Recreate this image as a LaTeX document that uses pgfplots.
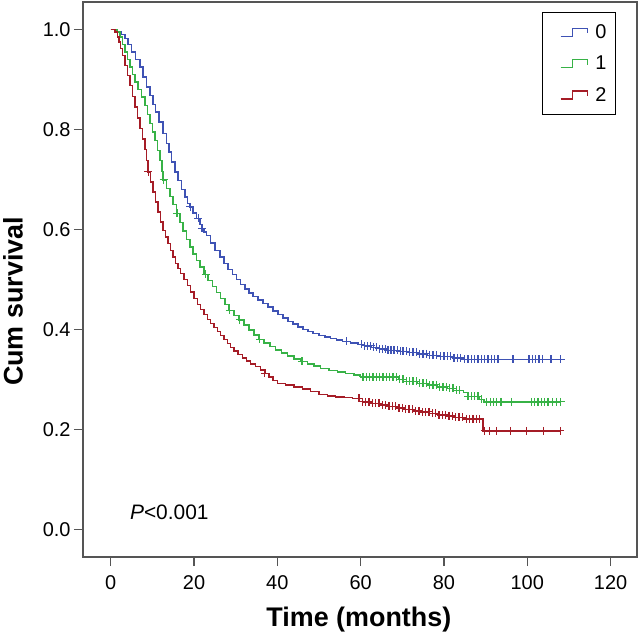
\documentclass[border=0pt]{standalone}
\usepackage{fontspec}
\setmainfont{Liberation Sans}
\usepackage{pgfplots}
\pgfplotsset{compat=1.18}
\usepackage{pgfplotstable}
\definecolor{kmblue}{RGB}{62,82,180}
\definecolor{kmgreen}{RGB}{55,178,70}
\definecolor{kmred}{RGB}{165,28,38}
\definecolor{framegray}{RGB}{85,85,85}

% survival curves (time in months, cumulative survival from that time on)
\pgfplotstableread{
t S
0 1.000
1.5 0.995
2.5 0.990
3.4 0.982
4.2 0.970
5.0 0.955
6.0 0.940
7.0 0.925
7.8 0.905
8.6 0.885
9.4 0.868
10.2 0.850
10.8 0.835
11.6 0.815
12.6 0.792
13.4 0.772
14.0 0.755
14.6 0.735
15.4 0.715
16.2 0.698
17.0 0.680
17.8 0.665
18.4 0.652
19.0 0.645
19.8 0.633
20.6 0.622
21.4 0.610
21.8 0.602
22.4 0.595
23.0 0.588
24.0 0.573
25.0 0.558
26.2 0.545
27.2 0.532
28.2 0.520
29.2 0.510
30.2 0.500
31.2 0.490
32.2 0.481
33.2 0.473
34.2 0.466
35.4 0.459
36.6 0.452
37.8 0.445
39.0 0.437
40.2 0.430
41.4 0.423
42.6 0.416
43.8 0.411
45.0 0.405
46.2 0.400
47.4 0.396
48.6 0.392
50.0 0.388
51.4 0.385
52.8 0.382
54.2 0.379
55.6 0.376
57.5 0.373
59.5 0.370
61.0 0.367
62.5 0.364
64.5 0.361
66.5 0.358
69.0 0.356
71.5 0.354
73.5 0.351
76.0 0.348
79.0 0.346
82.0 0.343
84.7 0.340
108.2 0.340
}\blueS
\pgfplotstableread{
t S
19.1 0.645
21.0 0.622
21.9 0.602
56.6 0.376
60.2 0.370
61.0 0.367
61.7 0.367
62.4 0.367
63.1 0.364
63.8 0.364
64.5 0.361
65.2 0.361
65.9 0.361
66.6 0.358
67.3 0.358
68.0 0.358
68.8 0.358
69.5 0.356
70.2 0.356
71.0 0.356
71.8 0.354
72.6 0.354
73.4 0.354
74.2 0.351
75.0 0.351
75.8 0.351
76.6 0.348
77.4 0.348
78.2 0.348
79.2 0.346
80.0 0.346
80.8 0.346
81.6 0.346
82.4 0.343
83.2 0.343
84.0 0.343
85.0 0.340
85.8 0.340
86.6 0.340
87.4 0.340
88.2 0.340
89.0 0.340
89.8 0.340
90.6 0.340
91.4 0.340
92.2 0.340
93.0 0.340
96.6 0.340
100.4 0.340
101.2 0.340
102.0 0.340
102.8 0.340
103.7 0.340
105.7 0.340
108.0 0.340
}\blueC
\pgfplotstableread{
t S
0 1.000
1.5 0.995
2.2 0.985
2.8 0.970
3.4 0.955
4.0 0.940
4.6 0.925
5.2 0.910
5.8 0.895
6.6 0.880
7.4 0.865
8.2 0.848
8.8 0.830
9.4 0.812
10.0 0.795
10.6 0.778
11.2 0.758
11.8 0.738
12.3 0.716
12.6 0.699
13.4 0.682
14.2 0.666
15.0 0.650
15.8 0.632
16.6 0.614
17.4 0.597
18.2 0.580
19.0 0.565
19.8 0.551
20.6 0.538
21.4 0.525
22.4 0.510
23.4 0.498
24.4 0.486
25.4 0.474
26.4 0.462
27.4 0.450
28.4 0.438
29.6 0.428
30.8 0.419
32.0 0.409
33.2 0.399
34.4 0.389
35.6 0.380
36.8 0.373
38.2 0.366
39.6 0.359
41.0 0.353
42.4 0.347
44.0 0.341
45.6 0.336
47.2 0.331
48.8 0.327
50.4 0.322
52.4 0.318
54.4 0.315
56.4 0.312
58.4 0.309
60.0 0.305
69.2 0.300
71.0 0.296
73.5 0.292
76.0 0.289
78.5 0.285
80.7 0.282
83.0 0.278
84.7 0.274
85.6 0.266
88.4 0.260
89.6 0.255
108.2 0.255
}\greenS
\pgfplotstableread{
t S
12.7 0.699
15.9 0.632
22.8 0.510
28.6 0.438
31.0 0.419
35.8 0.380
45.9 0.336
60.6 0.305
61.4 0.305
62.2 0.305
63.0 0.305
63.8 0.305
64.6 0.305
65.4 0.305
66.2 0.305
67.0 0.305
67.8 0.305
68.6 0.305
69.4 0.300
70.2 0.300
71.0 0.296
71.8 0.296
72.6 0.296
73.4 0.296
74.2 0.292
75.0 0.292
75.8 0.292
76.6 0.289
77.4 0.289
78.2 0.289
79.0 0.285
79.8 0.285
80.6 0.285
81.4 0.282
82.2 0.282
83.0 0.278
83.8 0.278
85.8 0.266
86.6 0.266
87.4 0.266
88.2 0.266
89.0 0.260
90.3 0.255
91.1 0.255
91.9 0.255
92.7 0.255
93.7 0.255
96.3 0.255
101.0 0.255
101.8 0.255
102.6 0.255
103.4 0.255
104.2 0.255
105.0 0.255
106.0 0.255
107.0 0.255
108.0 0.255
}\greenC
\pgfplotstableread{
t S
0 1.000
1.0 0.995
1.6 0.985
2.0 0.975
2.4 0.962
2.8 0.948
3.4 0.928
4.0 0.908
4.6 0.888
5.2 0.866
5.8 0.845
6.4 0.823
7.0 0.802
7.6 0.781
8.2 0.760
8.6 0.738
9.0 0.715
9.6 0.695
10.2 0.675
10.8 0.655
11.4 0.635
12.0 0.615
12.6 0.598
13.2 0.585
13.8 0.572
14.4 0.558
15.0 0.545
15.6 0.532
16.2 0.522
16.8 0.512
17.6 0.500
18.4 0.488
19.2 0.475
20.0 0.462
20.8 0.450
21.6 0.440
22.4 0.430
23.2 0.420
24.0 0.412
24.8 0.404
25.6 0.396
26.4 0.388
27.2 0.380
28.0 0.372
28.8 0.364
29.6 0.357
30.6 0.350
31.6 0.343
32.6 0.337
33.6 0.331
34.8 0.326
36.0 0.319
37.0 0.312
38.0 0.305
39.0 0.298
40.0 0.292
42.0 0.289
44.0 0.285
46.0 0.281
48.0 0.276
50.0 0.270
52.0 0.267
54.0 0.265
56.0 0.264
58.0 0.262
60.4 0.255
62.5 0.252
64.5 0.249
66.5 0.246
68.5 0.243
70.5 0.240
72.5 0.237
74.5 0.235
76.5 0.232
78.5 0.229
80.5 0.227
82.5 0.224
84.5 0.221
89.4 0.197
108.2 0.197
}\redS
\pgfplotstableread{
t S
9.0 0.715
37.0 0.312
59.6 0.262
60.4 0.255
61.2 0.255
62.0 0.255
62.8 0.252
63.6 0.252
64.4 0.252
65.2 0.249
66.0 0.249
66.8 0.246
67.6 0.246
68.4 0.246
69.2 0.243
70.0 0.243
70.8 0.240
71.6 0.240
72.4 0.240
73.2 0.237
74.0 0.237
74.8 0.235
75.6 0.235
76.4 0.235
77.2 0.232
78.0 0.232
78.8 0.229
79.6 0.229
80.4 0.229
81.2 0.227
82.0 0.227
82.8 0.224
83.6 0.224
84.4 0.224
85.4 0.221
86.2 0.221
87.0 0.221
87.8 0.221
88.6 0.221
89.8 0.197
91.0 0.197
92.6 0.197
95.9 0.197
99.9 0.197
103.9 0.197
107.9 0.197
}\redC

\begin{document}
\begin{tikzpicture}
\begin{axis}[
  scale only axis,
  width=554bp, height=555bp,
  xmin=-6.65, xmax=126.35,
  ymin=-0.0553, ymax=1.0547,
  axis line style={framegray, line width=1.3bp},
  tick style={framegray, line width=1.2bp},
  major tick length=9bp,
  tick align=outside,
  xtick pos=bottom, ytick pos=left,
  xtick={0,20,40,60,80,100,120},
  ytick={0,0.2,0.4,0.6,0.8,1.0},
  /pgf/number format/assume math mode=true,
  yticklabel style={/pgf/number format/.cd, fixed, fixed zerofill, precision=1},
  ticklabel style={font=\fontsize{20}{24}\selectfont, black},
  xticklabel style={yshift=-6bp},
  xlabel={Time (months)},
  ylabel={Cum survival},
  label style={font=\fontsize{27}{32}\selectfont\bfseries},
  xlabel style={at={(axis description cs:0.498,-0.1256)}, anchor=base, inner sep=0pt},
  ylabel style={at={(axis description cs:-0.1444,0.4604)}, anchor=north, inner sep=0pt, rotate=0},
  legend style={at={(axis description cs:0.9616,0.9814)}, anchor=north east,
    draw=black, line width=0.8bp, fill=white,
    font=\fontsize{20}{24}\selectfont, row sep=12bp, inner xsep=7bp, inner ysep=10bp},
  legend cell align=left,
  legend image code/.code={\path (-10bp,0bp) (32bp,0bp); \draw[#1, line width=1.1bp] (0bp,-4bp) -- (12bp,-4bp) -- (12bp,4bp) -- (27bp,4bp) -- (27bp,-1bp);},
  clip=false,
]
\addplot[const plot, kmblue, line width=1.4bp] table[x=t,y=S] {\blueS};
\addlegendentry{0}
\addplot[const plot, kmgreen, line width=1.4bp] table[x=t,y=S] {\greenS};
\addlegendentry{1}
\addplot[const plot, kmred, line width=1.4bp] table[x=t,y=S] {\redS};
\addlegendentry{2}
\addplot[only marks, mark=+, mark size=4bp, kmblue, line width=1.3bp, forget plot] table[x=t,y=S] {\blueC};
\addplot[only marks, mark=+, mark size=4bp, kmgreen, line width=1.3bp, forget plot] table[x=t,y=S] {\greenC};
\addplot[only marks, mark=+, mark size=4bp, kmred, line width=1.3bp, forget plot] table[x=t,y=S] {\redC};
\node[anchor=base west, inner sep=0pt, font=\fontsize{21}{25}\selectfont] at (axis cs:4.6,0.019) {\textit{P}<0.001};
\end{axis}
\pgfresetboundingbox
\path (-83bp,-77bp) rectangle (556bp,557bp);
\end{tikzpicture}
\end{document}
